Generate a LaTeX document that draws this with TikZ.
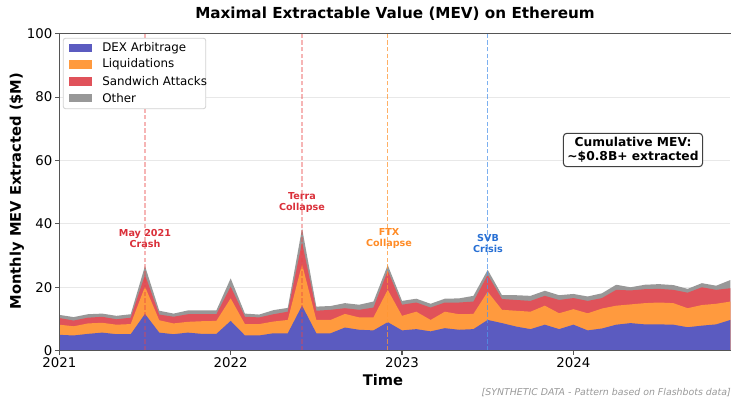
\documentclass[tikz,border=0pt]{standalone}
\usepackage{fontspec}
\setmainfont{DejaVu Sans}

% series colours
\definecolor{mevblue}{RGB}{91,91,192}
\definecolor{mevorange}{RGB}{255,154,62}
\definecolor{mevred}{RGB}{224,82,90}
\definecolor{mevgray}{RGB}{152,152,152}
\definecolor{spine}{RGB}{85,85,85}
\definecolor{gridc}{RGB}{232,232,232}
\definecolor{evred}{RGB}{218,48,58}
\definecolor{evorange}{RGB}{255,140,40}
\definecolor{evblue}{RGB}{40,112,212}
\definecolor{lnred}{RGB}{232,70,70}
\definecolor{lnorange}{RGB}{255,150,50}
\definecolor{lnblue}{RGB}{80,150,235}

% cumulative stack tops, one value per month (Jan 2021 .. Dec 2024)
\def\btop{5.0,4.8,5.3,5.7,5.2,5.2,11.6,5.7,5.2,5.7,5.3,5.3,9.4,4.8,4.8,5.5,5.5,14.2,5.5,5.5,7.3,6.6,6.4,9.0,6.4,6.8,6.1,7.1,6.6,6.8,9.7,8.7,7.6,6.8,8.2,6.8,8.2,6.4,7.0,8.2,8.7,8.3,8.3,8.2,7.4,7.9,8.3,9.7}
\def\otop{8.2,7.7,8.6,8.8,8.2,8.4,20.2,9.6,8.6,9.1,9.3,9.4,16.5,8.4,8.4,9.2,9.7,27.3,9.7,9.7,11.6,10.5,10.5,19.2,11.0,12.3,9.7,12.3,11.5,11.6,18.6,12.9,12.6,12.3,14.2,11.8,13.1,11.8,13.3,14.2,14.6,15.0,15.2,15.0,13.4,14.4,14.8,15.5}
\def\rtop{10.3,9.5,10.4,10.7,9.9,10.4,23.9,11.4,10.7,11.5,11.5,11.5,20.2,10.7,10.5,11.5,12.3,34.2,12.6,12.9,13.4,12.9,13.6,25.2,14.5,15.2,13.6,15.2,15.2,15.5,23.9,16.3,16.0,15.7,17.3,16.0,16.6,15.7,16.6,19.2,19.0,19.4,19.5,19.2,18.3,20.0,19.2,19.7}
\def\gtop{11.3,10.6,11.5,11.7,11.0,11.5,26.7,12.6,11.7,12.7,12.7,12.7,22.8,11.7,11.4,12.8,13.5,38.6,13.9,14.1,15.0,14.5,15.5,27.0,15.7,16.4,14.8,16.4,16.5,17.3,25.5,17.5,17.5,17.3,18.9,17.5,17.9,17.1,18.1,20.8,20.0,20.8,21.0,20.7,19.5,21.3,20.5,22.3}

\tikzset{
  ticklabel/.style={font=\fontsize{10}{12}\selectfont, text=black, inner sep=0pt},
  axislabel/.style={font=\bfseries\fontsize{11}{13}\selectfont, inner sep=0pt},
  eventline/.style={line width=1.1pt, dash pattern=on 3.5pt off 1.6pt, draw opacity=#1},
  eventlabel/.style={font=\bfseries\fontsize{7.2}{8.3}\selectfont, align=center, inner sep=0pt},
  legpatch/.style={minimum width=17pt, minimum height=6.5pt, inner sep=0pt},
  legtext/.style={font=\fontsize{8.9}{10}\selectfont, anchor=west, inner sep=0pt},
}

\begin{document}
\begin{tikzpicture}[x=0.75pt,y=0.75pt]
\useasboundingbox (0,0) rectangle (731,398);

% title
\node[font=\bfseries\fontsize{11.4}{13}\selectfont] (title) at (395,384) {Maximal Extractable Value (MEV) on Ethereum};

% data frame: months along x, $M along y
\begin{scope}[shift={(59.3,47.3)}, x=10.71pt, y=2.3775pt]
  % horizontal grid
  \foreach \g in {20,40,60,80}
    \draw[gridc, line width=0.8pt] (0,\g) -- (47,\g);

  % stacked areas, painted from the total down
  \fill[mevgray] (0,0) foreach \v [count=\i from 0] in \gtop { -- (\i,\v) } -- (47,0) -- cycle;
  \fill[mevred] (0,0) foreach \v [count=\i from 0] in \rtop { -- (\i,\v) } -- (47,0) -- cycle;
  \fill[mevorange] (0,0) foreach \v [count=\i from 0] in \otop { -- (\i,\v) } -- (47,0) -- cycle;
  \fill[mevblue] (0,0) foreach \v [count=\i from 0] in \btop { -- (\i,\v) } -- (47,0) -- cycle;

  % event markers
  \coordinate (may0) at (6,0);   \coordinate (may1) at (6,100);
  \coordinate (terra0) at (17,0); \coordinate (terra1) at (17,100);
  \coordinate (ftx0) at (23,0);  \coordinate (ftx1) at (23,100);
  \coordinate (svb0) at (30,0);  \coordinate (svb1) at (30,100);
  \draw[eventline=0.4, lnred] (may0) -- (may1);
  \draw[eventline=0.4, lnred] (terra0) -- (terra1);
  \draw[eventline=0.75, lnorange] (ftx0) -- (ftx1);
  \draw[eventline=0.75, lnblue] (svb0) -- (svb1);

  % spines
  \coordinate (o) at (0,0);
  \coordinate (ytop) at (0,100);
  \coordinate (xend) at (47.1,0);
  \coordinate (tend) at (47.1,100);
  \draw[spine, line width=1pt] (ytop) -- (o) -- (xend);
  \draw[spine, line width=1pt] (ytop) -- (tend);

  % y ticks
  \foreach \t in {0,20,40,60,80,100} {
    \draw[spine, line width=0.8pt] (0,\t) -- ++(-3pt,0);
    \node[ticklabel, anchor=east] (yt\t) at ([xshift=-5pt]0,\t) {\t};
  }
  % x ticks
  \foreach \yr [count=\j from 0] in {2021,2022,2023,2024} {
    \draw[spine, line width=0.8pt] (12*\j,0) -- ++(0,-3pt);
    \node[ticklabel, anchor=north] (xt\yr) at ([yshift=-5pt]12*\j,0) {\yr};
  }
\end{scope}

% event labels
\node[eventlabel, text=evred] (maylab) at (145,159.5) {May 2021\\Crash};
\node[eventlabel, text=evred] (terralab) at (302,195.5) {Terra\\Collapse};
\node[eventlabel, text=evorange] (ftxlab) at (389,159.5) {FTX\\Collapse};
\node[eventlabel, text=evblue] (svblab) at (488,154.5) {SVB\\Crisis};

% axis labels
\node[axislabel] (xlab) at (383,18) {Time};
\node[axislabel, rotate=90] (ylab) at (17,207) {Monthly MEV Extracted (\$M)};

% legend
\node[draw=black!18, fill=white, rounded corners=2pt, line width=0.6pt,
      minimum width=107pt, minimum height=53pt, inner sep=0pt] (legend) at (134.5,324.5) {};
\node[legpatch, fill=mevblue] (p1) at (80.5,350) {};
\node[legpatch, fill=mevorange] (p2) at (80.5,333.3) {};
\node[legpatch, fill=mevred] (p3) at (80.5,316.6) {};
\node[legpatch, fill=mevgray] (p4) at (80.5,300) {};
\node[legtext] (l1) at (102,350) {DEX Arbitrage};
\node[legtext] (l2) at (102,333.3) {Liquidations};
\node[legtext] (l3) at (102,316.6) {Sandwich Attacks};
\node[legtext] (l4) at (102,300) {Other};

% summary box
\node[draw=black!75, fill=white, rounded corners=2.5pt, line width=0.8pt, align=center,
      font=\bfseries\fontsize{9.2}{10.6}\selectfont, inner xsep=3pt, inner ysep=3pt] (cum) at (633,248)
      {Cumulative MEV:\\\textasciitilde\$0.8B+ extracted};

% source note
\node[anchor=east, font=\itshape\fontsize{7.05}{8}\selectfont, text=black!40, inner sep=0pt] (note) at (731,5)
      {[SYNTHETIC DATA - Pattern based on Flashbots data]};
\end{tikzpicture}
\end{document}
